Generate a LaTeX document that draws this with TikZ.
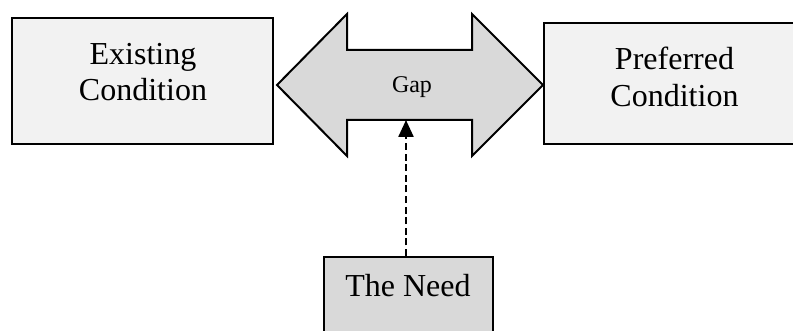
\documentclass[tikz,border=0pt]{standalone}
\usepackage{fontspec}
\setmainfont{Liberation Serif}
\usetikzlibrary{arrows.meta}
\definecolor{boxfill}{HTML}{F2F2F2}
\definecolor{darkfill}{HTML}{D9D9D9}
\begin{document}
\begin{tikzpicture}[x=0.5pt,y=-0.5pt,
  box/.style={draw=black, line width=1pt, inner sep=0pt},
  lbl/.style={font=\fontsize{16}{19}\selectfont, anchor=base, inner sep=0pt},
  small/.style={font=\fontsize{12}{14}\selectfont, anchor=base, inner sep=0pt},
  needline/.style={line width=1.2pt, dash pattern=on 3.5pt off 1.8pt,
    -{Triangle[length=8.5pt,width=7.5pt]}}]
\useasboundingbox (0,0) rectangle (793,331);
\clip (0,0) rectangle (793,331);

% condition boxes
\node[box, fill=boxfill, minimum width=130.5pt, minimum height=63pt] (existing) at (142.5,81) {};
\node[lbl] (existing1) at (143,65) {Existing};
\node[lbl] (existing2) at (143,101) {Condition};

\node[box, fill=boxfill, minimum width=130.5pt, minimum height=60.5pt] (preferred) at (674.5,83.5) {};
\node[lbl] (preferred1) at (674.5,70) {Preferred};
\node[lbl] (preferred2) at (674.5,107) {Condition};

% double-headed gap arrow
\draw[line width=1pt, fill=darkfill, line join=miter]
  (277,85) -- (347,14) -- (347,50) -- (472,50) -- (472,14) -- (543,85)
  -- (472,156) -- (472,120) -- (347,120) -- (347,156) -- cycle;
\node[small] (gap) at (412,93) {Gap};
\coordinate (shaftbot) at (406,120);

% the need box
\node[box, fill=darkfill, minimum width=84.5pt, minimum height=41.5pt] (need) at (408.5,298.5) {};
\node[lbl] (need1) at (408,297) {The Need};

\draw[needline] ([xshift=-1.25pt]need.north) -- (shaftbot);
\end{tikzpicture}
\end{document}
